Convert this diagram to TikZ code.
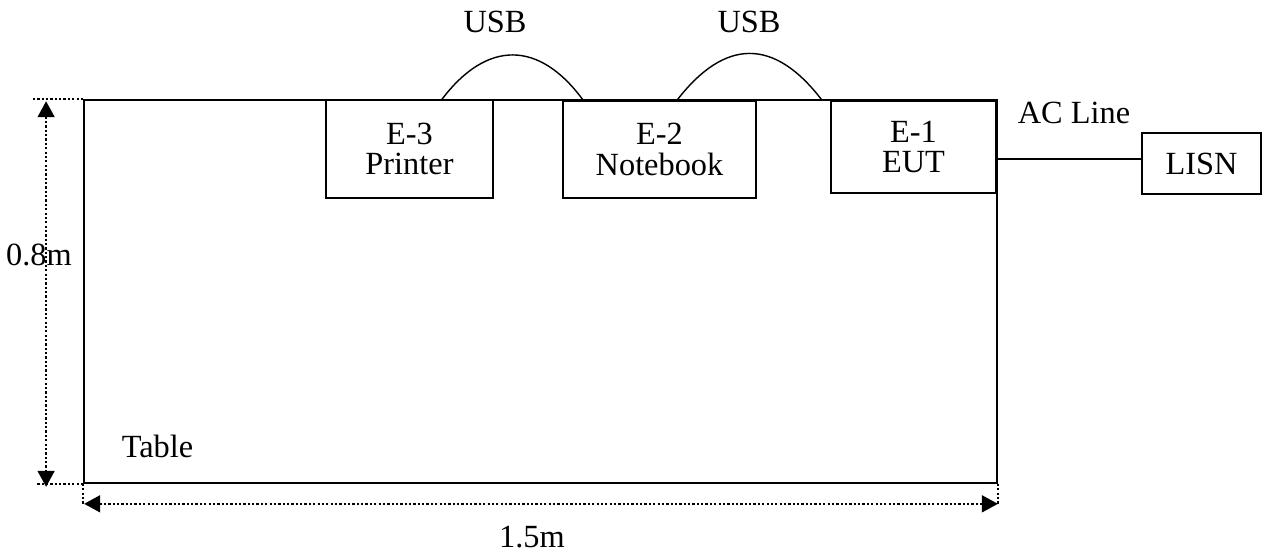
\documentclass[tikz,border=0pt]{standalone}
\usepackage{fontspec}
\setmainfont{Liberation Serif}
\usepackage{tikz}
\usetikzlibrary{
    arrows.meta,
    positioning,
    calc
}
\tikzstyle{unit} = [
    rectangle, draw,
    line width=1.1pt,
    align=center,
    inner sep=0pt
]
\tikzstyle{dim} = [
    line width=1.6pt,
    dash pattern=on 1.6pt off 1.5pt
]
\tikzstyle{cable} = [
    line width=1pt
]

\begin{document}
\begin{tikzpicture}[
    x=0.025cm, y=-0.025cm,
    font=\fontsize{23}{21.5}\selectfont,
    tips/.style={{Triangle[length=0.4cm,width=0.42cm]}-{Triangle[length=0.4cm,width=0.42cm]}},
    caption/.style={anchor=base}
]
\useasboundingbox (0,0) rectangle (1268,555);

% Table
\node[unit, minimum width=22.825cm, minimum height=9.575cm] (table) at (540.5,291.5) {};
\node[caption] (tablename) at (157.5,457) {Table};

% Equipment
\node[unit, minimum width=4.175cm, minimum height=2.45cm] (e3) at (409.5,149) {E-3\\Printer};
\node[unit, minimum width=4.825cm, minimum height=2.425cm] (e2) at (659.5,149.5) {E-2\\Notebook};
\node[unit, minimum width=4.125cm, minimum height=2.3cm] (e1) at (913.5,147) {E-1\\EUT};
\node[unit, minimum width=2.975cm, minimum height=1.525cm] (lisn) at (1201.5,163.5) {LISN};

% USB cables
\coordinate (usba) at ($(e3.north)+(32.5,0)$);
\coordinate (usbb) at ($(e2.north west)+(21,0)$);
\coordinate (usbc) at ($(e2.north)+(17.5,0)$);
\coordinate (usbd) at ($(e1.north west)+(-9,-1)$);
\draw[cable] (usba) .. controls (487,40) and (539,40) .. (usbb);
\draw[cable] (usbc) .. controls (725,38) and (774,38) .. (usbd);
\node[caption] (usb1) at (495,32) {USB};
\node[caption] (usb2) at (749,32) {USB};

% AC line
\coordinate (acout) at ($(e1.east)+(0,12)$);
\draw[cable] (acout) -- (acout -| lisn.west);
\node[caption] (acline) at (1074,123) {AC Line};

% Dimensions
\draw[dim] (table.north west) -- ++(-52,0);
\draw[dim] (table.south west) -- ++(-47,0);
\draw[dim] (table.south west) -- ++(0,20);
\draw[dim] (table.south east) -- ++(0,20);
\coordinate (htop) at ($(table.north west)+(-37,2)$);
\coordinate (hbot) at ($(table.south west)+(-37,3)$);
\coordinate (wleft) at ($(table.south west)+(1,20)$);
\coordinate (wright) at ($(table.south east)+(0,20)$);
\draw[dim, tips] (htop) -- (hbot);
\draw[dim, tips] (wleft) -- (wright);
\node[caption] (height) at (39,265) {0.8m};
\node[caption] (width) at (532,547) {1.5m};

\end{tikzpicture}
\end{document}
